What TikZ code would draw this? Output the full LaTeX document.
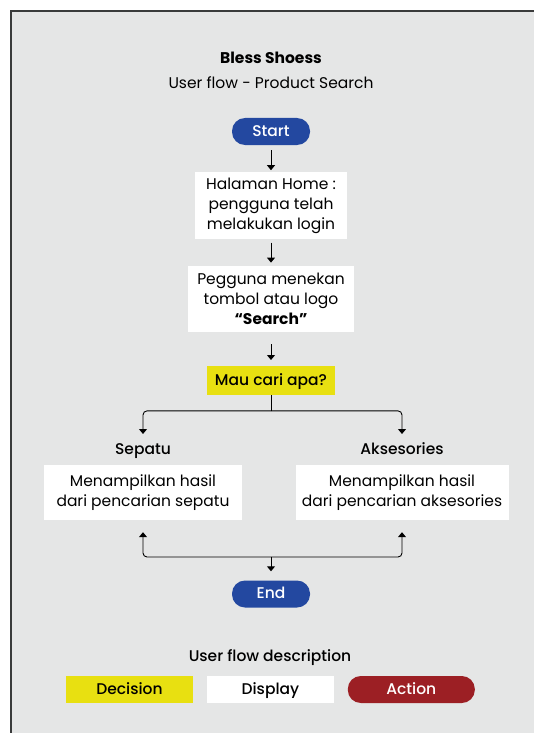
\documentclass[tikz,border=0pt]{standalone}
\usepackage{fontspec}
\setmainfont{Poppins}
\newfontfamily\mediumfont{Poppins Medium}
\usepackage{tikz}
\usetikzlibrary{arrows.meta, positioning}
\definecolor{colorBack}{HTML}{E5E6E6}
\definecolor{colorFrame}{HTML}{3A3B3B}
\definecolor{colorTerminal}{HTML}{2348A0}
\definecolor{colorDecision}{HTML}{E8E011}
\definecolor{colorAction}{HTML}{9C1F24}
\tikzset{
  display/.style={fill=white, align=center, minimum width=152pt, minimum height=67pt, inner sep=3pt},
  oneline/.style={text height=11pt, text depth=1.5pt, font=\fontsize{15.5}{18}\mediumfont},
  decision/.style={fill=colorDecision, minimum width=128pt, minimum height=29pt, oneline},
  terminal/.style={fill=colorTerminal, text=white, rounded corners=13pt, minimum width=78pt, minimum height=27pt, oneline},
  branch/.style={font=\fontsize{15.5}{18}\mediumfont, inner sep=0pt, anchor=base},
  flow/.style={->, black, line width=0.9pt}
}

\begin{document}
\begin{tikzpicture}[x=1pt, y=-1pt, >={Triangle[length=5pt, width=8pt]}, node distance=27pt, every node/.style={font=\fontsize{15.5}{20}\selectfont}]
\useasboundingbox (0,0) rectangle (533,733);
\fill[white] (0,0) rectangle (533,733);
\fill[colorBack] (11,11) rectangle (545,745);
\draw[colorFrame, line width=2pt] (11,745) -- (11,11) -- (545,11);
\node[font=\fontsize{15.5}{18}\bfseries] (title) at (271,58) {Bless Shoess};
\node (subtitle) at (271,83) {User flow - Product Search};
\node[terminal] (start) at (271,131.5) {Start};
\node[display, below=27pt of start] (home) {Halaman Home :\\pengguna telah\\melakukan login};
\node[display, below=26pt of home, minimum width=166pt, minimum height=66pt] (press) {Pegguna menekan\\tombol atau logo\\\textbf{“Search”}};
\node[decision, below=34pt of press] (ask) {Mau cari apa?};
\coordinate[below=15.5pt of ask] (split);
\node[branch] (sepatu) at (143,454) {Sepatu};
\node[branch] (aksesories) at (402,454) {Aksesories};
\node[display, minimum width=198pt, minimum height=55pt] (resSepatu) at (143,492.5) {Menampilkan hasil\\dari pencarian sepatu};
\node[display, minimum width=213pt, minimum height=55pt] (resAksesories) at (402,492.5) {Menampilkan hasil\\dari pencarian aksesories};
\coordinate (merge) at (271,557);
\node[terminal] (end) at (271,594) {End};
\node[branch] (legend) at (270,661) {User flow description};
\node[decision, minimum width=127pt, minimum height=27pt] (legDecision) at (129.5,689.5) {Decision};
\node[display, oneline, right=13.5pt of legDecision, minimum width=127pt, minimum height=27pt] (legDisplay) {Display};
\node[terminal, right=13.5pt of legDisplay, minimum width=127pt, fill=colorAction] (legAction) {Action};
\draw [flow] (start) edge [shorten <=5pt, shorten >=2pt] (home);
\draw [flow] (home) edge [shorten <=3pt, shorten >=3pt] (press);
\draw [flow] (press) edge [shorten <=12pt, shorten >=6pt] (ask);
\draw [flow, -] (ask.south) -- (split);
\draw [flow, rounded corners=4pt] (split) -| ([yshift=20pt]sepatu.base);
\draw [flow, rounded corners=4pt] (split) -| ([yshift=20pt]aksesories.base);
\draw [flow, rounded corners=4pt] (merge) -| ([yshift=-12pt]resSepatu.south);
\draw [flow, rounded corners=4pt] (merge) -| ([yshift=-12pt]resAksesories.south);
\draw [flow] (merge) -- ([yshift=9pt]end.north);
\end{tikzpicture}
\end{document}
